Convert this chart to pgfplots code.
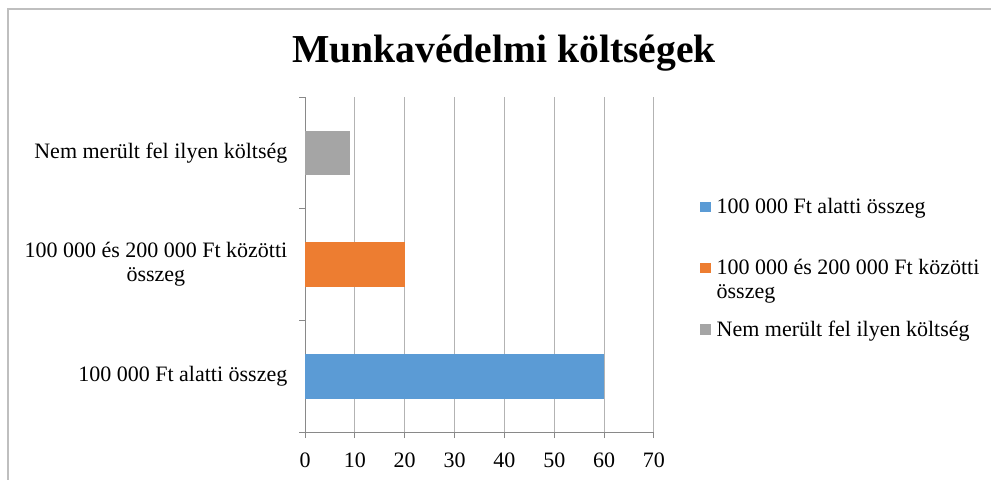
\documentclass[border=0pt]{standalone}
\usepackage{fontspec}
\setmainfont{Liberation Serif}
\usepackage{pgfplots}
\pgfplotsset{compat=1.18}
\definecolor{cblue}{HTML}{5B9BD5}
\definecolor{corange}{HTML}{ED7D31}
\definecolor{cgray}{HTML}{A5A5A5}
\definecolor{gridc}{HTML}{B3B3B3}
\definecolor{axc}{HTML}{898989}
\definecolor{framec}{HTML}{BFBFBF}
\begin{document}
\begin{tikzpicture}
\useasboundingbox (0,0) rectangle (743.25pt,359.25pt);
\draw[framec, line width=0.9pt] (6pt,-1pt) -- (6pt,352.5pt) -- (744pt,352.5pt);
\node[anchor=base, inner sep=0pt, font=\fontsize{29.7}{34}\selectfont\bfseries] at (378pt,312pt) {Munkavédelmi költségek};
\begin{axis}[
  at={(228.75pt,35.25pt)}, anchor=south west,
  scale only axis, width=261.75pt, height=251.25pt,
  xbar, bar width=0.4, bar shift=0pt,
  xmin=0, xmax=70, ymin=-0.5, ymax=2.5,
  xtick={0,10,...,70},
  ytick={-0.5,0.5,1.5,2.5}, yticklabels={},
  extra y ticks={0,1,2},
  extra y tick labels={100 000 Ft alatti összeg, {100 000 és 200 000 Ft közötti\\összeg}, Nem merült fel ilyen költség},
  extra y tick style={major tick length=0pt, grid=none},
  xmajorgrids, major grid style={gridc, line width=0.75pt},
  axis x line*=bottom, axis y line*=left,
  axis line style={axc, line width=0.75pt},
  tick style={axc, line width=0.75pt},
  tick align=outside, major tick length=4.5pt,
  tick label style={font=\fontsize{16.5}{18}\selectfont, black},
  yticklabel style={align=center, xshift=-9.75pt},
  xticklabel style={yshift=-7.5pt},
  /pgf/number format/assume math mode=true,
  legend style={at={(1.1318,0.7007)}, anchor=north west, draw=none, fill=none, inner sep=0pt,
    row sep=10pt, column sep=4.5pt,
    nodes={inner sep=0pt, text height=12pt, text depth=24pt, font=\fontsize{16.5}{18}\selectfont},
    cells={anchor=base west}},
]
\addplot[fill=cblue, draw=none, legend image code/.code={\fill[cblue] (0pt,1.1pt) rectangle (7.8pt,8.9pt);}] coordinates {(60,0)};
\addlegendentry{100 000 Ft alatti összeg}
\addplot[fill=corange, draw=none, legend image code/.code={\fill[corange] (0pt,1.1pt) rectangle (7.8pt,8.9pt);}] coordinates {(20,1)};
\addlegendentry{\begin{tabular}[t]{@{}l@{}}100 000 és 200 000 Ft közötti\\összeg\end{tabular}}
\addplot[fill=cgray, draw=none, legend image code/.code={\fill[cgray] (0pt,1.1pt) rectangle (7.8pt,8.9pt);}] coordinates {(9,2)};
\addlegendentry{Nem merült fel ilyen költség}
\end{axis}
\end{tikzpicture}
\end{document}
